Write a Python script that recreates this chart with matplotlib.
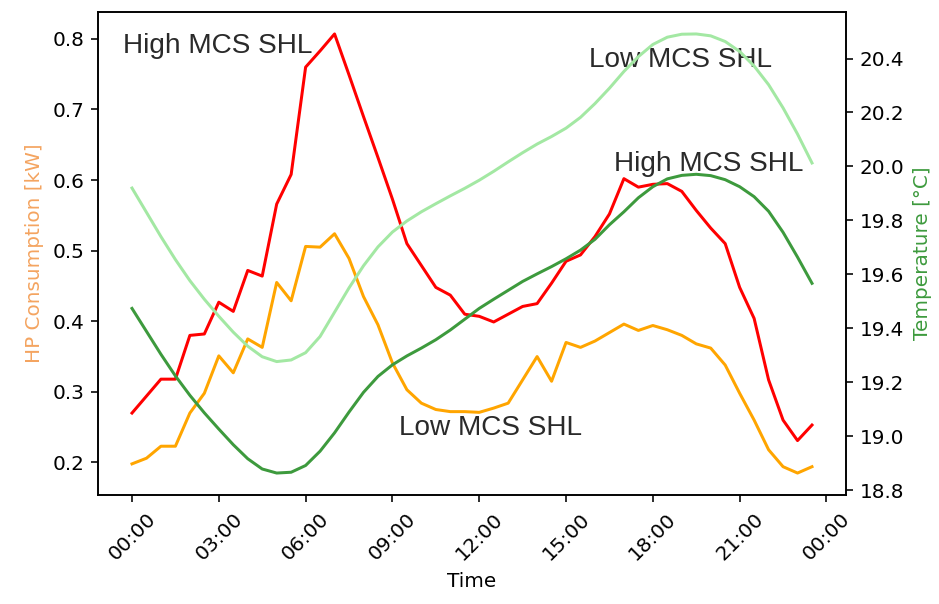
import numpy as np
import matplotlib
matplotlib.use("Agg")
import matplotlib.pyplot as plt
from matplotlib.ticker import FuncFormatter, MultipleLocator

# half-hourly time steps (hours)
hours = [i * 0.5 for i in range(48)]

hp_high = [0.270, 0.294, 0.318, 0.318, 0.380, 0.382, 0.427, 0.414, 0.472, 0.464,
           0.566, 0.608, 0.760, 0.783, 0.807, 0.749, 0.690, 0.632, 0.573, 0.510,
           0.479, 0.448, 0.437, 0.410, 0.407, 0.399, 0.410, 0.421, 0.425, 0.454,
           0.485, 0.494, 0.520, 0.552, 0.602, 0.590, 0.594, 0.595, 0.584, 0.557,
           0.532, 0.510, 0.448, 0.404, 0.317, 0.260, 0.231, 0.253]

hp_low = [0.198, 0.206, 0.223, 0.223, 0.270, 0.298, 0.351, 0.327, 0.375, 0.363,
          0.455, 0.429, 0.506, 0.505, 0.524, 0.489, 0.435, 0.395, 0.341, 0.303,
          0.284, 0.275, 0.272, 0.272, 0.271, 0.277, 0.284, 0.317, 0.350, 0.315,
          0.370, 0.363, 0.372, 0.384, 0.396, 0.387, 0.394, 0.388, 0.380, 0.368,
          0.362, 0.338, 0.298, 0.260, 0.218, 0.194, 0.185, 0.194]

temp_high = [19.474, 19.389, 19.304, 19.224, 19.152, 19.087, 19.027, 18.969, 18.917, 18.879,
             18.864, 18.867, 18.892, 18.945, 19.013, 19.090, 19.163, 19.222, 19.265, 19.298,
             19.327, 19.358, 19.394, 19.434, 19.474, 19.508, 19.541, 19.574, 19.602, 19.629,
             19.658, 19.690, 19.730, 19.784, 19.832, 19.884, 19.925, 19.954, 19.967, 19.971,
             19.966, 19.951, 19.925, 19.888, 19.834, 19.756, 19.664, 19.567]

temp_low = [19.920, 19.830, 19.740, 19.655, 19.577, 19.508, 19.445, 19.386, 19.334, 19.295,
            19.277, 19.283, 19.310, 19.370, 19.460, 19.550, 19.632, 19.702, 19.757, 19.798,
            19.832, 19.862, 19.891, 19.919, 19.949, 19.982, 20.017, 20.051, 20.083, 20.111,
            20.142, 20.182, 20.233, 20.290, 20.352, 20.407, 20.452, 20.479, 20.490, 20.491,
            20.484, 20.463, 20.426, 20.372, 20.303, 20.217, 20.120, 20.013]

tick_hours = [0, 3, 6, 9, 12, 15, 18, 21, 24]

DPI = 144
fig = plt.figure(figsize=(939 / DPI, 604 / DPI), dpi=DPI)
ax = fig.add_axes([98 / 939, 1 - 495 / 604, (846 - 98) / 939, (495 - 12) / 604])
ax2 = ax.twinx()

ax.plot(hours, hp_high, color="red", lw=1.5)
ax.plot(hours, hp_low, color="orange", lw=1.5)
ax2.plot(hours, temp_high, color="#3d9a3d", lw=1.5)
ax2.plot(hours, temp_low, color="#a3e8a3", lw=1.5)

ax.set_xticks(tick_hours)
ax.xaxis.set_major_formatter(FuncFormatter(lambda v, p: "%02d:00" % (int(round(v)) % 24)))
for lab in ax.get_xticklabels():
    lab.set_rotation(45)

ax.set_xlabel("Time", fontsize=10)
ax.set_ylabel("HP Consumption [kW]", color="sandybrown", fontsize=10)
ax2.set_ylabel("Temperature [°C]", color="#3d9a3d", fontsize=10)
ax.tick_params(labelsize=10)
ax2.tick_params(labelsize=10)
ax2.yaxis.set_major_locator(MultipleLocator(0.2))

txt_kw = dict(fontsize=14, color="#2a2a2a", family=["Liberation Sans", "DejaVu Sans"],
              ha="left", va="baseline")
ax.text(-0.31, 0.7806, "High MCS SHL", **txt_kw)
ax.text(15.79, 0.7595, "Low MCS SHL", **txt_kw)
ax.text(16.65, 0.6126, "High MCS SHL", **txt_kw)
ax.text(9.23, 0.2393, "Low MCS SHL", **txt_kw)

fig.savefig("out.png", dpi=DPI)
